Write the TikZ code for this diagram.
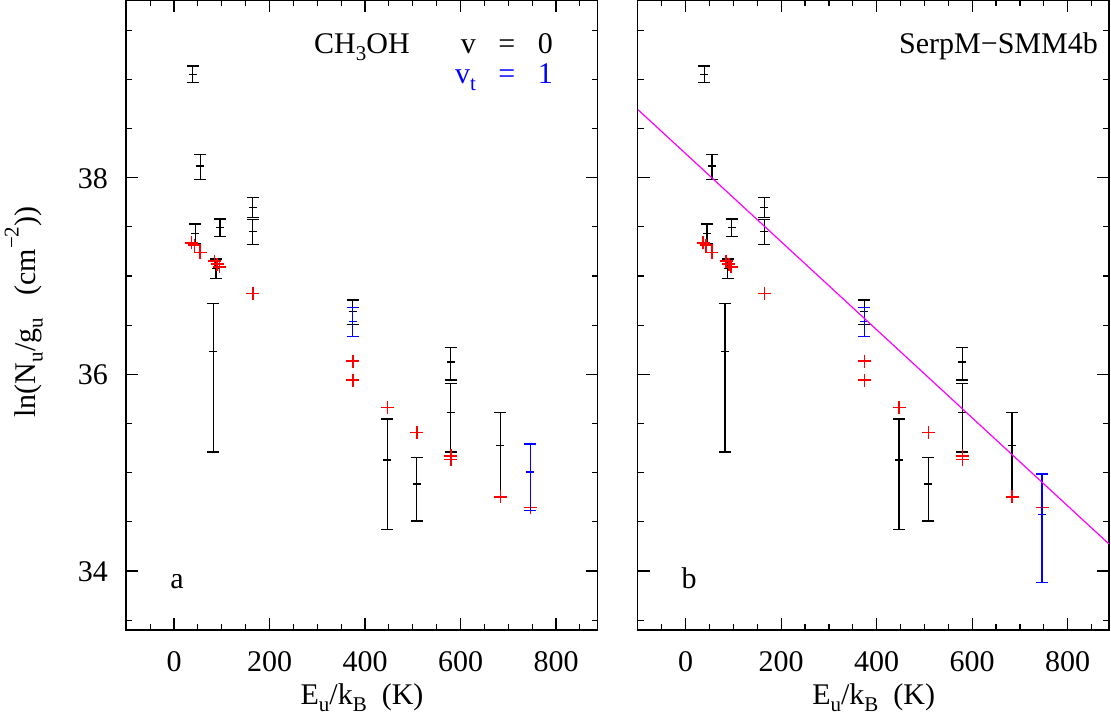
\documentclass[tikz,border=0pt]{standalone}
\usepackage{fontspec}
\setmainfont{Liberation Serif}
\definecolor{mag}{RGB}{255,0,255}
\definecolor{pblue}{RGB}{0,0,255}
\definecolor{pred}{RGB}{255,0,0}
\newcommand\ebar[5][black]{\draw[ebarst,#1] (#2,#3)--(#2,#5) ({#2-6},#3)--({#2+6},#3) ({#2-6},#5)--({#2+6},#5) ({#2-4},#4)--({#2+4},#4);}
\newcommand\rp[2]{\draw[rplus] ({#1-6.5},#2)--({#1+6.5},#2) (#1,{#2-6.5})--(#1,{#2+6.5});}
\newcommand\lsub[1]{\raisebox{-0.25em}{\fontsize{21}{21}\selectfont #1}}
\newcommand\lsup[1]{\raisebox{0.55em}{\fontsize{21}{21}\selectfont #1}}
\tikzset{ebarst/.style={line width=1.3pt},rplus/.style={pred,line width=1.6pt},
 lab/.style={font=\fontsize{30}{32}\selectfont,inner sep=0pt}}
\begin{document}
\begin{tikzpicture}[x=1pt,y=-1pt]
\useasboundingbox (0,0) rectangle (1111,718);
\foreach \s in {0,511.7}{
\begin{scope}[xshift=\s]
\draw[line width=1.5pt] (126,0) rectangle (597.5,630);
\foreach \k in {-50,0,...,850}{
 \draw[line width=1.2pt] ({174+0.4775*\k},630)--++(0,-6) ({174+0.4775*\k},0)--++(0,6);}
\foreach \k in {0,200,...,800}{
 \draw[line width=1.2pt] ({174+0.4775*\k},630)--++(0,-12) ({174+0.4775*\k},0)--++(0,12);
 \node[lab,anchor=base] (xt\k) at ({174+0.4775*\k},671) {\k};}
\foreach \v in {33.5,34.0,...,39.5}{
 \draw[line width=1.2pt] (126,{177.7-(\v-38)*98.33})--++(6,0) (597.5,{177.7-(\v-38)*98.33})--++(-6,0);}
\foreach \v in {34,36,38}{
 \draw[line width=1.2pt] (126,{177.7-(\v-38)*98.33})--++(12,0) (597.5,{177.7-(\v-38)*98.33})--++(-12,0);}
\node[lab,anchor=base] (xl) at (362,704) {E\lsub{u}/k\lsub{B}\ \ (K)};
\ebar{192.7}{66}{74.3}{82.7}
\ebar{200.3}{154.3}{166}{179.3}
\ebar{195.3}{224}{233.3}{243.3}
\ebar{220}{219}{227.3}{236.7}
\ebar{216}{259}{268.3}{278.7}
\ebar{213.3}{303.3}{351.7}{452}
\ebar{252.7}{197.7}{207.3}{217.3}
\ebar{252.7}{219.3}{231.7}{244.3}
\ebar{352.7}{300}{311.7}{324.3}
\ebar[pblue]{352.7}{307.3}{321.7}{336.7}
\ebar{387.3}{419}{460}{529.3}
\ebar{416.7}{457.7}{484}{521}
\ebar{450.7}{347.3}{362}{380}
\ebar{450.7}{383.7}{412.3}{452}
\ebar{500.3}{412.3}{445.7}{496.7}
\rp{191.3}{242.7}\rp{194.3}{245}\rp{200}{252.3}\rp{214.3}{261}\rp{217}{264}\rp{219.3}{266.7}
\rp{252.7}{293.3}\rp{352.7}{361}\rp{352.7}{380}\rp{387.3}{407.3}\rp{416.7}{432.3}
\rp{450.7}{455.7}\rp{450.7}{459.3}\rp{500.3}{496.7}\rp{530.3}{507.3}
\end{scope}}
\ebar[pblue]{530.3}{444}{472}{510.3}
\ebar[pblue]{1042}{474}{514.3}{582.7}
\draw[mag,line width=1.2pt] (638,109.7) -- (1109,544);
\foreach \v in {34,36,38}{
 \node[lab,anchor=base east] (yt\v) at (108,{177.7-(\v-38)*98.33+10.5}) {\v};}
\node[lab,anchor=base,rotate=90] (yl) at (35,312) {ln(N\lsub{u}/g\lsub{u}\ \ \ (cm\lsup{−2}))};
\node[lab,anchor=base west] (mol) at (314,53) {CH\lsub{3}OH};
\node[lab,anchor=base east] (v0) at (553,53) {v\ \ \ =\ \ \ 0};
\node[lab,anchor=base east,pblue] (vt) at (553,83) {v\lsub{t}\ \ \ =\ \ \ 1};
\node[lab,anchor=base east] (src) at (1098,53) {SerpM−SMM4b};
\node[lab,anchor=base] (pa) at (177,588) {a};
\node[lab,anchor=base] (pb) at (689,588) {b};
\end{tikzpicture}
\end{document}
